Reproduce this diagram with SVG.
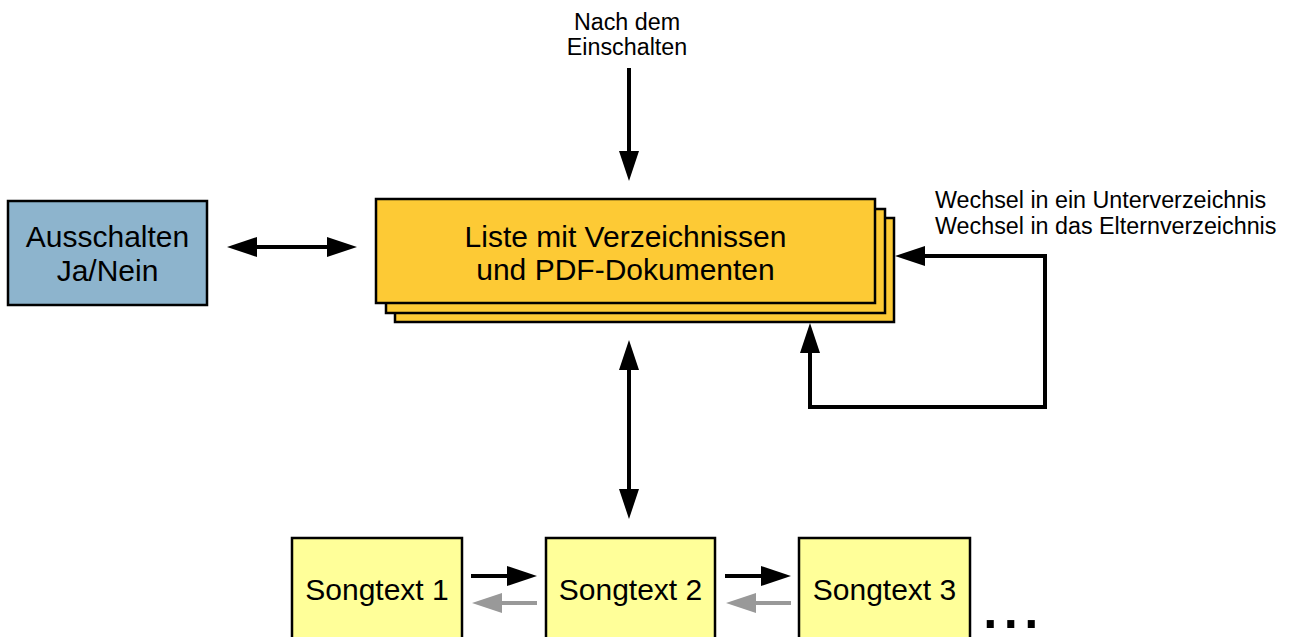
<svg xmlns="http://www.w3.org/2000/svg" width="1290" height="637" viewBox="0 0 1290 637">
  <style>
    text { font-family: "Liberation Sans", Arial, sans-serif; fill: #000; }
    .big { font-size: 30px; text-anchor: middle; }
    .small { font-size: 23.3px; }
    .box { stroke: #000; stroke-width: 2.5; }
    .list { fill: #fdca35; }
    .off { fill: #8db4cd; }
    .song { fill: #ffff99; }
    .conn { fill: none; stroke: #000; stroke-width: 4; stroke-linejoin: miter; }
    .back { fill: none; stroke: #999; stroke-width: 4; }
  </style>
  <defs>
    <marker id="head" markerUnits="userSpaceOnUse" markerWidth="30" markerHeight="20" refX="15" refY="10" orient="auto-start-reverse" viewBox="0 0 30 20">
      <path d="M0,0 L30,10 L0,20 Z" fill="#000"/>
    </marker>
    <marker id="headGray" markerUnits="userSpaceOnUse" markerWidth="30" markerHeight="20" refX="15" refY="10" orient="auto-start-reverse" viewBox="0 0 30 20">
      <path d="M0,0 L30,10 L0,20 Z" fill="#999"/>
    </marker>
  </defs>

  <rect width="1290" height="637" fill="#fff"/>

  <!-- start label -->
  <g id="start-label">
    <text class="small" x="627" y="30" text-anchor="middle">Nach dem</text>
    <text class="small" x="627" y="55" text-anchor="middle">Einschalten</text>
  </g>

  <!-- power-off dialog -->
  <g id="node-off">
    <rect class="box off" x="8" y="201" width="199" height="104"/>
    <text class="big" x="107.5" y="247">Ausschalten</text>
    <text class="big" x="107.5" y="281">Ja/Nein</text>
  </g>

  <!-- directory list (stacked pages) -->
  <g id="node-list">
    <rect class="box list" x="395" y="218" width="499" height="104"/>
    <rect class="box list" x="386" y="209" width="499" height="104"/>
    <rect class="box list" x="376" y="199" width="499" height="104"/>
    <text class="big" x="625.5" y="247">Liste mit Verzeichnissen</text>
    <text class="big" x="625.5" y="280">und PDF-Dokumenten</text>
  </g>

  <!-- directory change label -->
  <g id="loop-label">
    <text class="small" x="935" y="208">Wechsel in ein Unterverzeichnis</text>
    <text class="small" x="935" y="234">Wechsel in das Elternverzeichnis</text>
  </g>

  <!-- song text pages -->
  <g id="node-song1">
    <rect class="box song" x="292" y="538" width="170" height="120"/>
    <text class="big" x="377" y="600">Songtext 1</text>
  </g>
  <g id="node-song2">
    <rect class="box song" x="546" y="538" width="169" height="120"/>
    <text class="big" x="630.5" y="600">Songtext 2</text>
  </g>
  <g id="node-song3">
    <rect class="box song" x="799" y="538" width="171" height="120"/>
    <text class="big" x="884.5" y="600">Songtext 3</text>
  </g>
  <g id="more">
    <text x="980" y="628" style="font-size:74px">...</text>
  </g>

  <!-- connectors -->
  <g id="connectors">
    <line class="conn" x1="629" y1="68" x2="629" y2="166" marker-end="url(#head)"/>
    <line class="conn" x1="242" y1="247" x2="342" y2="247" marker-start="url(#head)" marker-end="url(#head)"/>
    <line class="conn" x1="629" y1="355" x2="629" y2="504" marker-start="url(#head)" marker-end="url(#head)"/>
    <path class="conn" d="M810,338 L810,407 L1045,407 L1045,256 L910,256" marker-start="url(#head)" marker-end="url(#head)"/>
    <line class="conn" x1="471" y1="576" x2="522" y2="576" marker-end="url(#head)"/>
    <line class="back" x1="537" y1="603" x2="487" y2="603" marker-end="url(#headGray)"/>
    <line class="conn" x1="725" y1="576" x2="776" y2="576" marker-end="url(#head)"/>
    <line class="back" x1="791" y1="603" x2="741" y2="603" marker-end="url(#headGray)"/>
  </g>
</svg>
